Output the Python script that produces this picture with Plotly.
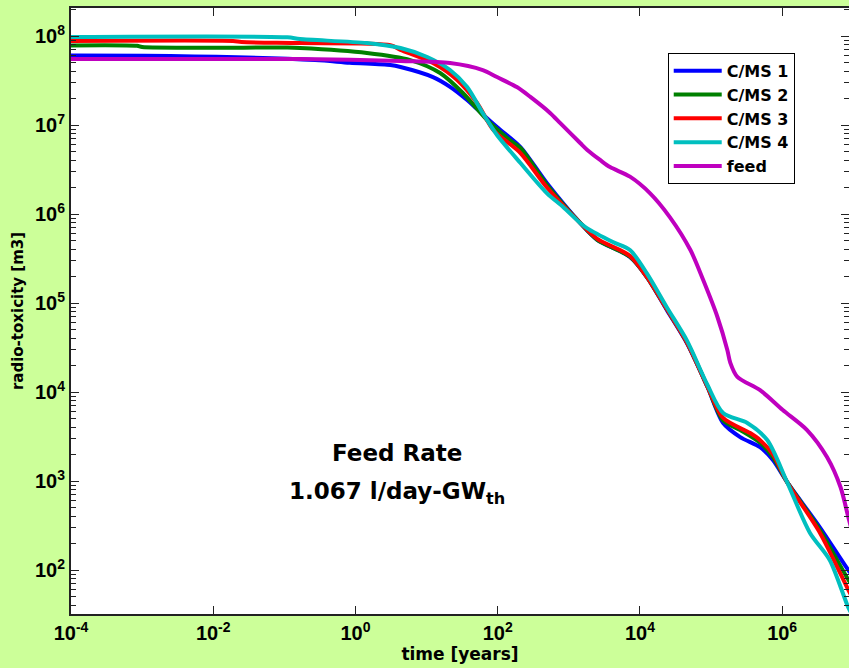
import plotly.graph_objects as go

# ---- data ----
time_cms1 = [1e-4, 2.5e-3, 0.27, 0.83, 3.1, 4.3, 12.3, 21.4, 37.2, 51.3, 97.7, 209, 490, 1445, 2512,
             7244, 12589, 23988, 45709, 89125, 147911, 257040, 489779, 741310, 1.17e6, 3.39e6, 8.51e6, 1e7]
tox_cms1 = [6.03e7, 5.96e7, 5.37e7, 5.01e7, 4.72e7, 4.49e7, 3.46e7, 2.69e7, 1.91e7, 1.51e7, 9.51e6, 5.66e6,
            2.23e6, 7.94e5, 5.13e5, 3.29e5, 1.95e5, 8.32e4, 3.55e4, 1.14e4, 4.49e3, 3.12e3, 2.40e3, 1.72e3,
            977, 302, 100, 85]

time_cms2 = [1e-4, 8.5e-4, 1e-3, 0.11, 0.166, 1.45, 5.9, 15.5, 32.4, 70.8, 148, 209, 490, 1445, 2512,
             7244, 12589, 23988, 45709, 89125, 147911, 257040, 489779, 741310, 1.17e6, 3.39e6, 8.51e6, 1e7]
tox_cms2 = [7.85e7, 7.76e7, 7.52e7, 7.41e7, 7.33e7, 6.46e7, 5.37e7, 3.84e7, 2.29e7, 1.14e7, 6.78e6, 5.52e6,
            2.14e6, 7.94e5, 5.13e5, 3.31e5, 1.95e5, 8.51e4, 3.63e4, 1.15e4, 4.79e3, 3.74e3, 2.69e3, 1.86e3,
            977, 282, 78, 65]

time_cms3 = [1e-4, 0.019, 0.025, 0.166, 3.1, 4.3, 12.3, 26.9, 51.3, 87, 209, 490, 1445, 2512, 7244,
             12589, 23988, 45709, 89125, 147911, 354813, 489779, 741310, 1.17e6, 3.39e6, 8.51e6, 1e7]
tox_cms3 = [8.79e7, 8.79e7, 8.57e7, 8.34e7, 7.9e7, 7.0e7, 4.98e7, 3.21e7, 1.77e7, 8.79e6, 4.84e6, 2.0e6,
            7.94e5, 5.25e5, 3.39e5, 1.95e5, 8.51e4, 3.63e4, 1.15e4, 5.11e3, 3.46e3, 2.88e3, 2.0e3, 977,
            263, 60, 47]

time_cms4 = [1e-4, 0.11, 0.166, 1.45, 4.3, 10.2, 21.4, 37.2, 61.7, 97.7, 209, 490, 832, 1445, 1820,
             4169, 7244, 12589, 23988, 45709, 89125, 147911, 323594, 616595, 1.17e6, 2.45e6, 4.68e6,
             8.51e6, 1e7]
tox_cms4 = [9.75e7, 9.66e7, 9.25e7, 8.34e7, 7.33e7, 5.81e7, 4.15e7, 2.67e7, 1.36e7, 7.73e6, 3.74e6,
            1.72e6, 1.20e6, 7.94e5, 6.9e5, 4.84e5, 3.94e5, 2.14e5, 8.91e4, 3.80e4, 1.20e4, 5.81e3,
            4.49e3, 2.89e3, 977, 263, 129, 38, 30]

time_feed = [1e-4, 0.166, 4.3, 21.4, 61.7, 97.7, 186, 288, 550, 759, 1445, 1820, 2754, 3802, 7244,
             13804, 26303, 51286, 77625, 123027, 169824, 186209, 234423, 489779, 1.02e6, 2.24e6,
             4.27e6, 6.61e6, 8.51e6, 1e7]
tox_feed = [5.52e7, 5.52e7, 5.24e7, 4.98e7, 4.15e7, 3.46e7, 2.67e7, 2.07e7, 1.36e7, 1.05e7, 6.28e6,
            5.25e6, 4.05e6, 3.37e6, 2.63e6, 1.72e6, 9.25e5, 3.94e5, 1.81e5, 6.97e4, 2.95e4, 2.14e4,
            1.48e4, 1.05e4, 6.28e3, 3.74e3, 1.86e3, 857, 394, 240]

series_names = ["C/MS 1", "C/MS 2", "C/MS 3", "C/MS 4", "feed"]
series_colors = ["#0000ff", "#008000", "#ff0000", "#00bfbf", "#bf00bf"]
series_times = [time_cms1, time_cms2, time_cms3, time_cms4, time_feed]
series_vals = [tox_cms1, tox_cms2, tox_cms3, tox_cms4, tox_feed]

x_tick_exps = [-4, -2, 0, 2, 4, 6]
y_tick_exps = [2, 3, 4, 5, 6, 7, 8]

FONT = "Arial, Liberation Sans, Helvetica, sans-serif"
WIDE = "DejaVu Sans, Verdana, sans-serif"

fig = go.Figure()
for name, col, t, v in zip(series_names, series_colors, series_times, series_vals):
    fig.add_trace(go.Scatter(x=t, y=v, mode="lines", name=name,
                             line=dict(color=col, width=4, shape="spline", smoothing=0.8)))
# helper trace for mirrored (top/right) tick axes
fig.add_trace(go.Scatter(x=[1e-4], y=[1e8], mode="markers", marker=dict(opacity=0),
                         xaxis="x2", yaxis="y2", showlegend=False, hoverinfo="skip"))

minor_y = [m * 10 ** k for k in range(1, 9) for m in range(2, 10)]

fig.update_layout(
    width=849, height=668,
    paper_bgcolor="#ccff99", plot_bgcolor="white",
    margin=dict(l=71, r=0, t=8, b=54),
    font=dict(family=FONT, color="black"),
    xaxis=dict(type="log", range=[-4, 6.94], showgrid=False, zeroline=False,
               showline=True, linecolor="#222222", linewidth=2, mirror=True,
               ticks="inside", ticklen=8, tickcolor="#222222", tickwidth=1,
               tickvals=[10 ** e for e in x_tick_exps],
               ticktext=[f"10<sup>{e}</sup>" for e in x_tick_exps],
               tickfont=dict(size=20, family=FONT, color="black", weight="bold"),
               title=dict(text="<b>time [years]</b>", font=dict(size=17, family=WIDE), standoff=4)),
    yaxis=dict(type="log", range=[1.506, 8.315], showgrid=False, zeroline=False,
               showline=True, linecolor="#222222", linewidth=2, mirror=False,
               ticks="inside", ticklen=8, tickcolor="#222222", tickwidth=1,
               tickvals=[10 ** e for e in y_tick_exps],
               ticktext=[f"10<sup>{e}</sup>" for e in y_tick_exps],
               tickfont=dict(size=20, family=FONT, color="black", weight="bold"),
               minor=dict(tickvals=minor_y, ticks="inside", ticklen=5, tickcolor="#222222", tickwidth=1),
               title=dict(text="<b>radio-toxicity [m3]</b>", font=dict(size=15, family=WIDE), standoff=8)),
    xaxis2=dict(type="log", overlaying="x", side="top", matches="x", showgrid=False, zeroline=False,
                showline=False, ticks="inside", ticklen=8, tickcolor="#222222",
                tickvals=[10 ** e for e in x_tick_exps], showticklabels=False),
    yaxis2=dict(type="log", overlaying="y", side="right", matches="y", showgrid=False, zeroline=False,
                showline=False, ticks="inside", ticklen=8, tickcolor="#222222",
                tickvals=[10 ** e for e in y_tick_exps], showticklabels=False,
                minor=dict(tickvals=minor_y, ticks="inside", ticklen=5, tickcolor="#222222")),
    legend=dict(x=0.767, y=0.926, xanchor="left", yanchor="top",
                bgcolor="white", bordercolor="black", borderwidth=1,
                font=dict(size=16, family=WIDE, color="black", weight="bold"),
                itemwidth=48, tracegroupgap=0),
    showlegend=True,
)

fig.add_annotation(x=0.419, y=0.241, xref="paper", yref="paper", showarrow=False,
                   text="<b>Feed Rate</b>", font=dict(size=23, family=WIDE, color="black"))
fig.add_annotation(x=0.419, y=0.171, xref="paper", yref="paper", showarrow=False,
                   text="<b>1.067 l/day-GW<sub>th</sub></b>", font=dict(size=23, family=WIDE, color="black"))

fig.write_html("out.html")
